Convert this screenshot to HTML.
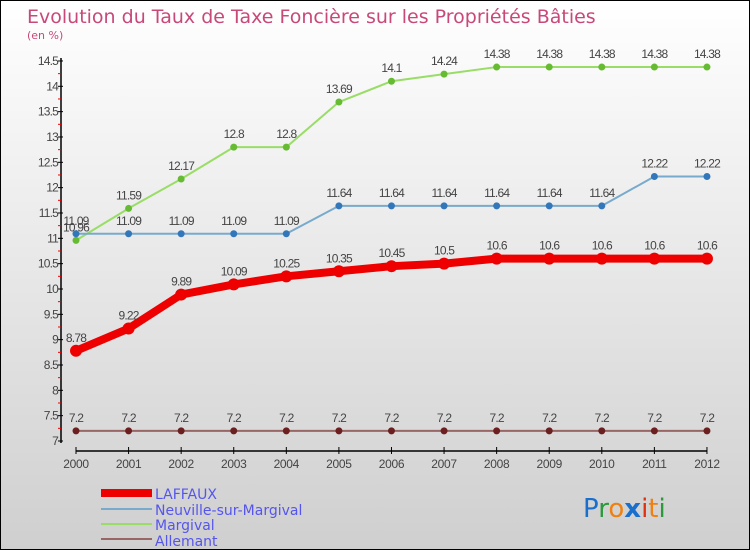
<!DOCTYPE html>
<html><head><meta charset="utf-8"><style>
html,body{margin:0;padding:0}
body{width:750px;height:550px;overflow:hidden;font-family:"DejaVu Sans","Liberation Sans",sans-serif}
#wrap{position:relative;width:748px;height:548px;border:1px solid #000;background:linear-gradient(#fff,#cfcfcf)}
</style></head><body>
<div id="wrap">
<svg id="chart" width="748" height="548" style="position:absolute;left:0;top:0">
<text x="26" y="22" font-size="19" fill="#c8487a">Evolution du Taux de Taxe Foncière sur les Propriétés Bâties</text>
<text x="26" y="38" font-size="11" fill="#c8487a">(en %)</text>
<g id="axes"></g><g id="series"></g>
<g font-size="14" fill="#5555ee">
<rect x="100" y="488" width="51" height="8" fill="#ee0000"/>
<text x="154" y="498">LAFFAUX</text>
<rect x="100" y="507" width="51" height="2" fill="#77aacc"/>
<text x="154" y="514">Neuville-sur-Margival</text>
<rect x="100" y="522" width="51" height="2" fill="#99dd66"/>
<text x="154" y="529">Margival</text>
<rect x="100" y="537" width="51" height="2" fill="#996666"/>
<text x="154" y="545">Allemant</text>
</g>
<g font-size="26" font-family="'DejaVu Sans',sans-serif">
<text x="582" y="516"><tspan fill="#1a6fcc">P</tspan><tspan fill="#2a9a3a">r</tspan><tspan fill="#f08010">o</tspan><tspan fill="#1a6fcc" font-weight="bold">x</tspan><tspan fill="#e03010">i</tspan><tspan fill="#f08010">t</tspan><tspan fill="#2a9a3a">i</tspan></text>
</g>
</svg>
</div>
<script>
const years=[2000,2001,2002,2003,2004,2005,2006,2007,2008,2009,2010,2011,2012];
const laffaux=[8.78,9.22,9.89,10.09,10.25,10.35,10.45,10.5,10.6,10.6,10.6,10.6,10.6];
const neuville=[11.09,11.09,11.09,11.09,11.09,11.64,11.64,11.64,11.64,11.64,11.64,12.22,12.22];
const margival=[10.96,11.59,12.17,12.8,12.8,13.69,14.1,14.24,14.38,14.38,14.38,14.38,14.38];
const allemant=[7.2,7.2,7.2,7.2,7.2,7.2,7.2,7.2,7.2,7.2,7.2,7.2,7.2];
const yTicks=[7,7.5,8,8.5,9,9.5,10,10.5,11,11.5,12,12.5,13,13.5,14,14.5];
const NS="http://www.w3.org/2000/svg";
const X=i=>75+i*52.58;
const Y=v=>440-(v-7)*50.67;
const LF="'Liberation Sans',sans-serif";
function mk(t,a,p){const e=document.createElementNS(NS,t);for(const k in a)e.setAttribute(k,a[k]);p.appendChild(e);return e;}
const ax=document.getElementById('axes');
const yl=mk('line',{x1:60,y1:57,x2:60,y2:442,stroke:'#000','stroke-width':1.5},ax);


const xl=mk('line',{x1:75,y1:450,x2:706,y2:450,stroke:'#000','stroke-width':1.5},ax);


yTicks.forEach((v,i)=>{
 mk('line',{x1:57,x2:62,y1:Y(v),y2:Y(v),stroke:'#000'},ax);
 if(i<yTicks.length-1) mk('line',{x1:57,x2:60,y1:Y(v+0.25),y2:Y(v+0.25),stroke:'#e00'},ax);
 const t=mk('text',{x:57,y:Y(v)+4,'font-size':12,fill:'#444','text-anchor':'end','letter-spacing':'-0.8','font-family':LF},ax);
 t.textContent=String(v);
 
 
});
years.forEach((yr,i)=>{
 mk('line',{x1:X(i),x2:X(i),y1:446,y2:453,stroke:'#000'},ax);
 const t=mk('text',{x:X(i),y:467,'font-size':12,fill:'#444','text-anchor':'middle','letter-spacing':'-0.3','font-family':LF},ax);
 t.textContent=yr;
 
 
});
const sg=document.getElementById('series');
function series(vals,name,line,dot,w,r){
 const g=mk('g',{},sg);
 
 
 const pl=mk('polyline',{points:vals.map((v,i)=>X(i)+','+Y(v)).join(' '),fill:'none',stroke:line,'stroke-width':w,'stroke-linejoin':'round'},g);
 
 
 vals.forEach((v,i)=>{
  const c=mk('circle',{cx:X(i),cy:Y(v),r:r,fill:dot},g);
  
  
  const t=mk('text',{x:X(i),y:Y(v)-9,'font-size':12,fill:'#444','text-anchor':'middle','letter-spacing':'-0.8','font-family':LF},g);
  t.textContent=String(v);
  
  
 });
}
series(allemant,'allemant','#996666','#6b1f1f',2,3.5);
series(margival,'margival','#99dd66','#66bb33',2,3.5);
series(neuville,'neuville','#77aacc','#3377bb',2,3.5);
series(laffaux,'laffaux','#ee0000','#ee0000',8,6);
</script>
</body></html>
